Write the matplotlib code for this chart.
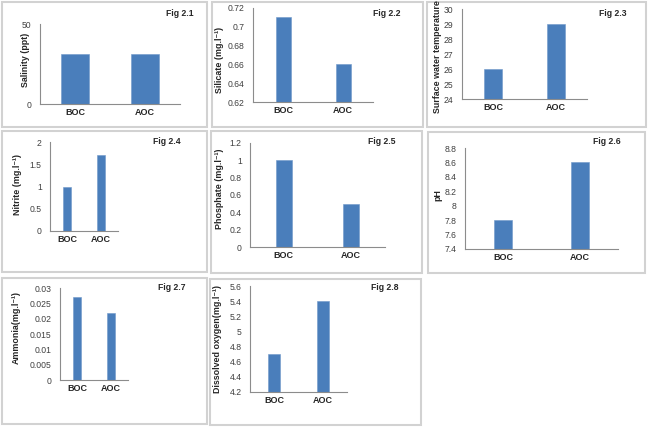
import numpy as np
import matplotlib
matplotlib.use('Agg')
import matplotlib.pyplot as plt
from matplotlib.patches import Rectangle
from matplotlib.ticker import FuncFormatter

plt.rcParams['font.family'] = ['Liberation Sans', 'DejaVu Sans']

W, H = 648, 429

# data
cats = ['BOC', 'AOC']
salinity = [31, 31]
silicate = [0.71, 0.66]
temperature = [26, 29]
nitrite = [1.0, 1.7]
phosphate = [1.0, 0.5]
ph = [7.8, 8.6]
ammonia = [0.027, 0.022]
oxygen = [4.7, 5.4]

fig_titles = ['Fig 2.1', 'Fig 2.2', 'Fig 2.3', 'Fig 2.4',
              'Fig 2.5', 'Fig 2.6', 'Fig 2.7', 'Fig 2.8']
ylabels = ['Salinity (ppt)', 'Silicate (mg.l\u207b\u00b9)',
           'Surface water temperature', 'Nitrite (mg.l\u207b\u00b9)',
           'Phosphate (mg.l\u207b\u00b9)', 'pH',
           'Ammonia(mg.l\u207b\u00b9)', 'Dissolved oxygen(mg.l\u207b\u00b9)']
yticks = [[0, 50],
          np.arange(0.62, 0.7201, 0.02),
          np.arange(24, 30.1, 1),
          np.arange(0, 2.01, 0.5),
          np.arange(0, 1.201, 0.2),
          np.arange(7.4, 8.801, 0.2),
          np.arange(0, 0.03001, 0.005),
          np.arange(4.2, 5.601, 0.2)]
series = [salinity, silicate, temperature, nitrite, phosphate, ph, ammonia, oxygen]

# layout in pixels: panel frame, plot area, bar width, y-label pos, fig label pos
frames = [(2, 2, 207, 127), (212, 2, 423, 127), (427, 2, 646, 127),
          (2, 131, 207, 272), (211, 131, 422, 273), (428, 132, 645, 273),
          (2, 278, 207, 424), (210, 279, 421, 425)]
areas = [(40, 24, 180, 104), (253, 8, 373, 102), (462, 9, 587, 99),
         (50, 142, 118, 231), (250, 143, 385, 247), (465, 148, 618, 249),
         (60, 288, 128, 380), (250, 286, 347, 392)]
widths = [0.39, 0.25, 0.29, 0.26, 0.24, 0.24, 0.26, 0.25]
ylab_pos = [(25, 60), (219, 60), (437, 57), (17, 185), (220, 189),
            (438, 195), (16, 327), (218, 339)]
figlab_pos = [(180, 14), (387, 14), (613, 13), (167, 141), (382, 142),
              (607, 141), (172, 287), (385, 288)]

bar_color = '#4a7ebb'
axis_color = '#8c8c8c'

fig = plt.figure(figsize=(W / 100, H / 100), dpi=100)
fig.patch.set_facecolor('white')


def fx(x):
    return x / W


def fy(y):
    return 1 - y / H


for i in range(8):
    x0, y0, x1, y1 = frames[i]
    fig.add_artist(Rectangle((fx(x0), fy(y1)), (x1 - x0) / W, (y1 - y0) / H,
                             transform=fig.transFigure, fill=False,
                             edgecolor='#d2d2d2', linewidth=1.5))

    a0, b0, a1, b1 = areas[i]
    ax = fig.add_axes([fx(a0), fy(b1), (a1 - a0) / W, (b1 - b0) / H])
    ax.bar(np.arange(2), series[i], width=widths[i], color=bar_color,
           edgecolor='#6f97c9', linewidth=0.4)
    ax.set_xlim(-0.5, 1.5)
    t = yticks[i]
    ax.set_ylim(t[0], t[-1])
    ax.set_yticks(t)
    ax.yaxis.set_major_formatter(FuncFormatter(lambda v, p: f'{round(v, 6):g}'))
    ax.set_xticks(np.arange(2))
    ax.set_xticklabels(cats, fontsize=6.5, fontweight='bold', color='#262626')
    ax.tick_params(axis='y', length=0, pad=6, labelsize=6.2, labelcolor='#404040')
    ax.tick_params(axis='x', length=0, pad=3)
    for s in ['top', 'right']:
        ax.spines[s].set_visible(False)
    for s in ['left', 'bottom']:
        ax.spines[s].set_color(axis_color)
        ax.spines[s].set_linewidth(0.8)
    ax.patch.set_alpha(0)

    lx, ly = ylab_pos[i]
    fig.text(fx(lx), fy(ly), ylabels[i], rotation=90, ha='center', va='center',
             fontsize=6.4, fontweight='bold', color='#262626')
    gx, gy = figlab_pos[i]
    fig.text(fx(gx), fy(gy), fig_titles[i], ha='center', va='center',
             fontsize=6.2, fontweight='bold', color='#262626')

fig.savefig('out.png', dpi=100)
